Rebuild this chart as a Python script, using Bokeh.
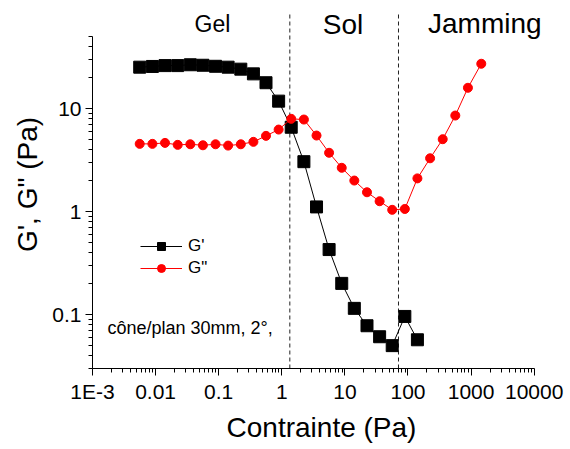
from bokeh.plotting import figure
from bokeh.models import (FixedTicker, CustomJSTickFormatter, Label,
                          Legend, LegendItem, ColumnDataSource)
from bokeh.embed import file_html
from bokeh.resources import INLINE

# ---------------- data ----------------
stress_gp = [0.0056, 0.0089, 0.0141, 0.0224, 0.0355, 0.0562, 0.0891, 0.141,
             0.224, 0.355, 0.562, 0.891, 1.41, 2.24, 3.55, 5.62, 8.91, 14.1,
             22.4, 35.5, 56.2, 89.1, 141]
g_prime = [25.2, 25.6, 26.1, 26.1, 26.6, 26.3, 25.7, 25.2, 24.1, 21.7, 17.8,
           11.8, 6.58, 3.05, 1.11, 0.428, 0.201, 0.115, 0.078, 0.061, 0.050,
           0.096, 0.057]

stress_gpp = [0.0056, 0.0089, 0.0141, 0.0224, 0.0355, 0.0562, 0.0891, 0.141,
              0.224, 0.355, 0.562, 0.891, 1.41, 2.24, 3.55, 5.62, 8.91, 14.1,
              22.4, 35.5, 56.2, 89.1, 141, 224, 355, 562, 891, 1450]
g_second = [4.54, 4.54, 4.64, 4.44, 4.50, 4.40, 4.50, 4.37, 4.50, 4.75, 5.43,
            6.25, 7.94, 7.82, 5.47, 3.72, 2.66, 2.00, 1.54, 1.26, 1.04, 1.06,
            2.10, 3.29, 5.04, 8.55, 15.9, 27.2]

x_ticks = [0.001, 0.01, 0.1, 1, 10, 100, 1000, 10000]
x_tick_labels = ["1E-3", "0.01", "0.1", "1", "10", "100", "1000", "10000"]
y_ticks = [0.1, 1, 10]
y_tick_labels = ["0.1", "1", "10"]

regime_names = ["Gel", "Sol", "Jamming"]
regime_bounds = [1.34, 70.7]
series_names = ["G'", 'G"']
note_text = "cône/plan 30mm, 2°,"

FONT = "Liberation Sans"

# ---------------- figure ----------------
p = figure(width=570, height=449, x_axis_type="log", y_axis_type="log",
           x_range=(0.001, 18130), y_range=(0.03, 111.8),
           output_backend="svg", toolbar_location=None,
           min_border_left=92, min_border_right=20,
           min_border_top=0, min_border_bottom=81)
p.outline_line_color = None
p.xgrid.visible = False
p.ygrid.visible = False
p.background_fill_color = "white"
p.border_fill_color = "white"

src1 = ColumnDataSource(dict(x=stress_gp, y=g_prime))
src2 = ColumnDataSource(dict(x=stress_gpp, y=g_second))

# regime boundaries (dashed)
p.segment(x0=regime_bounds, x1=regime_bounds, y0=[0.03, 0.03], y1=[82, 82],
          line_color="#222222", line_width=1, line_dash="4 3")

l1 = p.line("x", "y", source=src1, line_color="black", line_width=1)
s1 = p.scatter("x", "y", source=src1, marker="square", size=12,
               fill_color="black", line_color="black")
l2 = p.line("x", "y", source=src2, line_color="#ff0000", line_width=1)
s2 = p.scatter("x", "y", source=src2, marker="circle", size=9,
               fill_color="#ff0000", line_color="#ff0000")

# ---------------- axes ----------------
x_minor = [m * 10.0 ** e for e in range(-3, 4) for m in range(2, 10)]
y_minor = [m * 10.0 ** e for e in range(-2, 2) for m in range(2, 10)
           if 0.0299 <= m * 10.0 ** e <= 50.01]

p.xaxis.ticker = FixedTicker(ticks=x_ticks, minor_ticks=x_minor)
p.yaxis.ticker = FixedTicker(ticks=y_ticks, minor_ticks=y_minor)

fmt_code = """
for (let i = 0; i < tv.length; i++) {
  if (Math.abs(tick - tv[i]) <= 1e-6 * tv[i]) return tl[i];
}
return "";
"""
p.xaxis.formatter = CustomJSTickFormatter(args=dict(tv=x_ticks, tl=x_tick_labels), code=fmt_code)
p.yaxis.formatter = CustomJSTickFormatter(args=dict(tv=y_ticks, tl=y_tick_labels), code=fmt_code)
p.xaxis.bounds = (0.001, 10000)
p.yaxis.bounds = (0.03, 50)

p.xaxis.axis_label = "Contrainte (Pa)"
p.yaxis.axis_label = "G', G\" (Pa)"

for ax in (p.xaxis[0], p.yaxis[0]):
    ax.axis_line_color = "black"
    ax.major_tick_line_color = "black"
    ax.minor_tick_line_color = "black"
    ax.major_tick_out = 7
    ax.major_tick_in = 0
    ax.minor_tick_out = 4
    ax.minor_tick_in = 0
    ax.major_label_text_font = FONT
    ax.major_label_text_font_size = "21px"
    ax.major_label_text_color = "black"
    ax.major_label_standoff = 4
    ax.axis_label_text_font = FONT
    ax.axis_label_text_font_size = "28px"
    ax.axis_label_text_font_style = "normal"
    ax.axis_label_text_color = "black"
    ax.axis_label_standoff = 6

# ---------------- annotations ----------------
p.add_layout(Label(x=0.0798, y=65.4, text=regime_names[0], text_align="center",
                   text_baseline="middle", text_font=FONT, text_font_size="23px",
                   text_color="black"))
p.add_layout(Label(x=9.36, y=65.4, text=regime_names[1], text_align="center",
                   text_baseline="middle", text_font=FONT, text_font_size="28px",
                   text_color="black"))
p.add_layout(Label(x=1648, y=66.8, text=regime_names[2], text_align="center",
                   text_baseline="middle", text_font=FONT, text_font_size="28px",
                   text_color="black"))
p.add_layout(Label(x=0.00173, y=0.0748, text=note_text, text_align="left",
                   text_baseline="alphabetic", text_font=FONT, text_font_size="18px",
                   text_color="black"))

legend = Legend(items=[LegendItem(label=series_names[0], renderers=[l1, s1]),
                       LegendItem(label=series_names[1], renderers=[l2, s2])],
                location=(48, 90), border_line_color=None, background_fill_alpha=0,
                padding=0, margin=0, spacing=2, glyph_width=42, glyph_height=20,
                label_standoff=6, label_height=20, label_text_font=FONT,
                label_text_font_size="17px", label_text_color="black")
p.add_layout(legend)

open("out.html", "w").write(file_html(p, INLINE))
